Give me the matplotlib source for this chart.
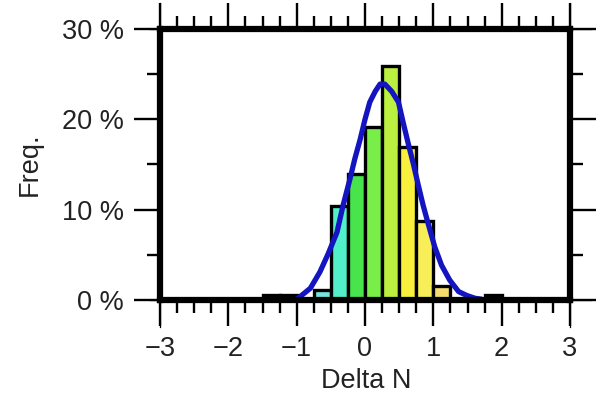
import matplotlib
matplotlib.use("Agg")
import matplotlib.pyplot as plt
from matplotlib.ticker import MultipleLocator, FuncFormatter

plt.rcParams['font.family'] = ['Liberation Sans', 'DejaVu Sans']

# histogram of Delta N (bin width 0.25), frequency in percent
bin_left = [-1.5, -1.25, -0.75, -0.5, -0.25, 0.0, 0.25, 0.5, 0.75, 1.0, 1.75]
freq = [0.5, 0.5, 1.1, 10.4, 14.0, 19.1, 25.9, 16.9, 8.8, 1.6, 0.5]
bar_colors = ['#5a8cf0', '#5ab4f0', '#74e6de', '#52f0c8', '#48e44c', '#7aee48',
              '#bcf040', '#f8f03c', '#f8ee58', '#f6dc6e', '#f0a860']

# fitted normal curve
fit_x = [-1.0, -0.95, -0.8, -0.66, -0.54, -0.41, -0.32, -0.22, -0.15, -0.07,
         0.0, 0.07, 0.15, 0.22, 0.29, 0.39, 0.49, 0.56, 0.63, 0.71, 0.78,
         0.85, 0.93, 1.02, 1.12, 1.24, 1.37, 1.49, 1.61, 1.7]
fit_y = [0.1, 0.37, 1.3, 3.1, 5.1, 7.5, 10.5, 13.4, 15.6, 17.8,
         20.0, 21.9, 23.1, 23.9, 23.9, 23.1, 21.9, 19.6, 17.4, 15.0, 12.7,
         10.5, 8.3, 5.9, 3.85, 2.2, 0.93, 0.5, 0.19, 0.1]

fig = plt.figure(figsize=(6.03, 4.05), dpi=100)
ax = fig.add_axes([160/603, 1-300/405, 410/603, 271/405])

ax.bar(bin_left, freq, width=0.25, align='edge', color=bar_colors,
       edgecolor='black', linewidth=2.4, zorder=2)
ax.plot(fit_x, fit_y, color='#1414c0', linewidth=3.8, zorder=3,
        solid_capstyle='round', solid_joinstyle='round')

ax.set_xlim(-3, 3)
ax.set_ylim(0, 30)

for s in ax.spines.values():
    s.set_linewidth(4.5)
    s.set_zorder(4)

# thin axis lines running past the frame
lk = dict(transform=ax.transAxes, color='black', lw=0.9, clip_on=False, zorder=5)
ax.plot([-0.025, 1.05], [0, 0], **lk)
ax.plot([-0.025, 1.05], [1, 1], **lk)
ax.plot([0, 0], [-0.1, 1.095], **lk)
ax.plot([1, 1], [-0.1, 1.095], **lk)

ax.xaxis.set_major_locator(MultipleLocator(1))
ax.xaxis.set_minor_locator(MultipleLocator(0.25))
ax.yaxis.set_major_locator(MultipleLocator(10))
ax.yaxis.set_minor_locator(MultipleLocator(5))
ax.yaxis.set_major_formatter(FuncFormatter(lambda v, p: f"{v:.0f} %"))

ax.tick_params(which='both', direction='out', top=True, right=True,
               labeltop=False, labelright=False, colors='black', width=1.7)
ax.tick_params(which='major', length=19, pad=7, labelsize=19.5, labelcolor='#222222')
ax.tick_params(which='minor', length=9.5)

ax.set_xlabel('Delta N', fontsize=19.5, color='#222222')
ax.set_ylabel('Freq.', fontsize=19.5, color='#222222')
ax.xaxis.set_label_coords(0.504, -0.25)
ax.yaxis.set_label_coords(-0.285, 0.5)

fig.savefig('out.png', dpi=100)
